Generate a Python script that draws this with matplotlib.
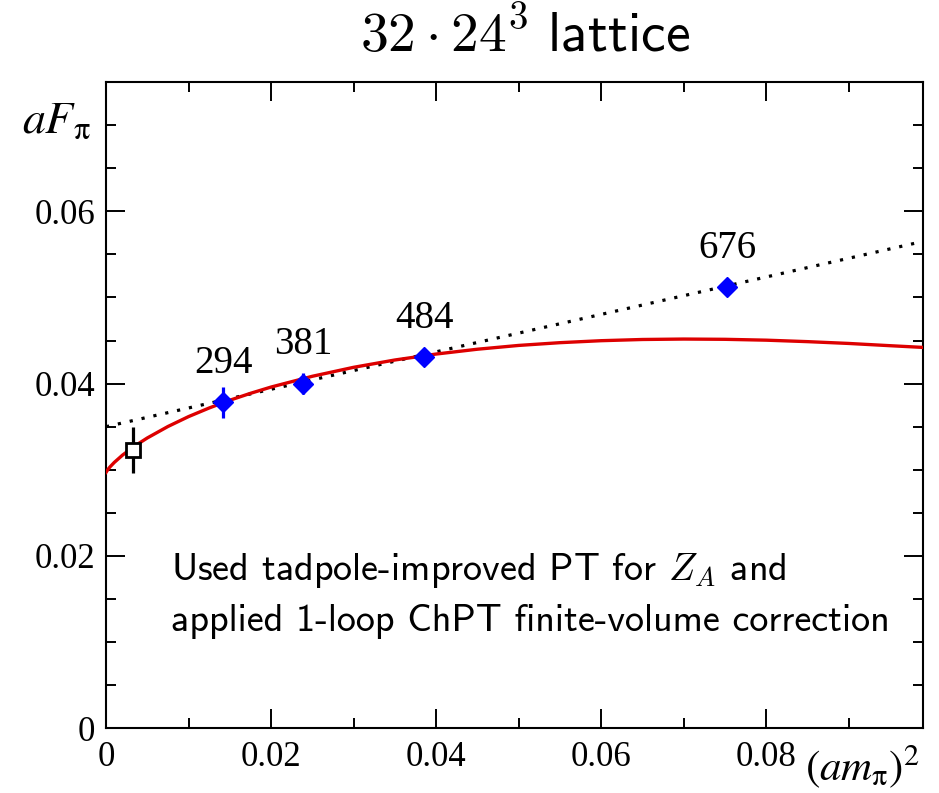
import matplotlib
matplotlib.use('Agg')
import matplotlib.pyplot as plt
from matplotlib.ticker import MultipleLocator, FixedLocator

plt.rcParams['mathtext.fontset'] = 'stix'
plt.rcParams['font.family'] = 'Liberation Serif'

# lattice points (am_pi)^2 vs aF_pi, labelled with m_pi in MeV
msq = [0.01422, 0.02392, 0.03858, 0.07527]
fpi = [0.03781, 0.04001, 0.04310, 0.05118]
fpi_err = [0.00176, 0.00127, 0.00035, 0.00030]
mass_labels = ['294', '381', '484', '676']

# extrapolated point at the physical pion mass
phys_x = [0.00323]
phys_y = [0.03228]
phys_err = [0.00268]

# ChPT fit curve (red)
fit_x = [0.0, 0.00025, 0.0005, 0.001, 0.002, 0.0035, 0.005, 0.0075, 0.01, 0.0125,
         0.015, 0.0175, 0.02, 0.025, 0.03, 0.035, 0.04, 0.045, 0.05, 0.055, 0.06,
         0.065, 0.07, 0.075, 0.08, 0.085, 0.09, 0.095, 0.099]
fit_y = [0.0297, 0.03006, 0.03035, 0.03085, 0.0317, 0.03277, 0.03369, 0.03502,
         0.03617, 0.03717, 0.03807, 0.03887, 0.0396, 0.04085, 0.04189, 0.04274,
         0.04343, 0.04399, 0.04443, 0.04475, 0.04498, 0.04512, 0.04517, 0.04514,
         0.04504, 0.04487, 0.04466, 0.04440, 0.04420]

# linear fit (dotted)
lin_x = [0.0, 0.099]
lin_y = [0.0350, 0.0565]

xticks = [0, 0.02, 0.04, 0.06, 0.08]
xtick_labels = ['0', '0.02', '0.04', '0.06', '0.08']
yticks = [0, 0.02, 0.04, 0.06]
ytick_labels = ['0', '0.02', '0.04', '0.06']

fig = plt.figure(figsize=(9.39, 7.93), dpi=100)
ax = fig.add_axes([106/939, 1-728.3/793, (923-106)/939, (728.3-82)/793])

ax.plot(fit_x, fit_y, color='#dd0000', lw=2.4, zorder=3)
ax.plot(lin_x, lin_y, color='black', lw=2.3, linestyle=(0, (1, 2.8)), zorder=2)

ax.errorbar(msq, fpi, yerr=fpi_err, fmt='D', color='#0000ff', ms=10.5,
            elinewidth=2.3, capsize=0, zorder=5)
ax.errorbar(phys_x, phys_y, yerr=phys_err, fmt='s', color='black', mfc='white',
            ms=9.5, mew=2.0, elinewidth=2.3, capsize=0, zorder=5)

for x, y, lab in zip(msq, fpi, mass_labels):
    ax.annotate(lab, (x, y), xytext=(0, 21), textcoords='offset points',
                ha='center', va='baseline', fontsize=28)

ax.set_xlim(0, 0.099)
ax.set_ylim(0, 0.075)
ax.xaxis.set_major_locator(FixedLocator(xticks))
ax.set_xticklabels(xtick_labels)
ax.yaxis.set_major_locator(FixedLocator(yticks))
ax.set_yticklabels(ytick_labels)
ax.xaxis.set_minor_locator(MultipleLocator(0.01))
ax.yaxis.set_minor_locator(MultipleLocator(0.005))
ax.tick_params(which='both', direction='in', top=True, right=True, width=1.4,
               labelsize=25)
ax.tick_params(which='major', length=14)
ax.tick_params(which='minor', length=7)
ax.tick_params(axis='x', pad=9)
ax.tick_params(axis='y', pad=8)
for s in ax.spines.values():
    s.set_linewidth(1.5)

fig.text(22/939, 1-133/793, r'$aF_{\mathrm{\pi}}$', fontsize=33, va='baseline', ha='left')
fig.text(805/939, 1-780/793, r'$(am_{\mathrm{\pi}})^2$', fontsize=31, va='baseline', ha='left')

fig.text(525/939, 1-52/793, r'$32\cdot 24^3\ \mathsf{lattice}$', fontsize=40,
         ha='center', va='baseline', math_fontfamily='cm')

fig.text(171/939, 1-580/793, r'Used tadpole-improved PT for $Z_A$ and',
         family='cmss10', math_fontfamily='cm', fontsize=27.5, va='baseline')
fig.text(171/939, 1-631/793, 'applied 1-loop ChPT finite-volume correction',
         family='cmss10', fontsize=27.5, va='baseline')

fig.savefig('out.png', dpi=100)
